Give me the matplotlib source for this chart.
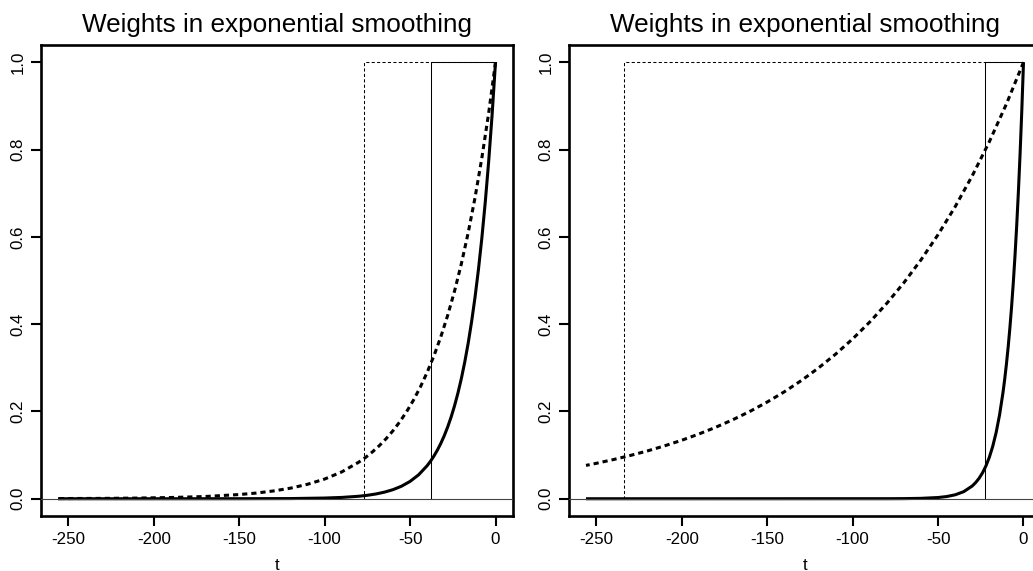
import matplotlib
matplotlib.use("Agg")
import matplotlib.pyplot as plt

plt.rcParams['font.family'] = ['Liberation Sans', 'DejaVu Sans']

# ---- data ----
title = "Weights in exponential smoothing"
xticks = [-250, -200, -150, -100, -50, 0]
yticks = [0.0, 0.2, 0.4, 0.6, 0.8, 1.0]
ytick_labels = ["0.0", "0.2", "0.4", "0.6", "0.8", "1.0"]

# left panel, solid (fast) weights
t_left_solid = [0, -2, -4, -6, -8, -10, -12, -14, -16, -18, -20, -22, -24, -26, -28, -30,
                -32, -34, -36, -38, -40, -45, -50, -55, -60, -65, -70, -75, -80, -90, -100,
                -120, -150, -200, -256]
w_left_solid = [1.0, 0.8789, 0.7725, 0.6790, 0.5968, 0.5245, 0.4610, 0.4052, 0.3561, 0.3130,
                0.2751, 0.2418, 0.2125, 0.1868, 0.1642, 0.1443, 0.1268, 0.1115, 0.0980, 0.0861,
                0.0757, 0.0548, 0.0397, 0.0287, 0.0208, 0.0151, 0.0109, 0.0079, 0.0057, 0.0030,
                0.0016, 0.0004, 0.0001, 0.0, 0.0]
# left panel, dashed (slow) weights
t_left_dashed = [0, -4, -8, -12, -16, -20, -24, -28, -32, -36, -40, -44, -48, -52, -56, -60,
                 -64, -68, -72, -76, -80, -90, -100, -110, -120, -130, -140, -150, -170, -190,
                 -210, -230, -256]
w_left_dashed = [1.0, 0.8834, 0.7804, 0.6894, 0.6090, 0.5380, 0.4753, 0.4199, 0.3709, 0.3277,
                 0.2895, 0.2557, 0.2259, 0.1996, 0.1763, 0.1557, 0.1376, 0.1215, 0.1074, 0.0948,
                 0.0838, 0.0614, 0.0451, 0.0331, 0.0242, 0.0178, 0.0130, 0.0096, 0.0051, 0.0028,
                 0.0015, 0.0008, 0.0004]
# right panel, solid (fast) weights
t_right_solid = [0, -1, -2, -3, -4, -5, -6, -7, -8, -9, -10, -11, -12, -14, -16, -18, -20,
                 -22, -24, -26, -28, -30, -35, -40, -45, -50, -60, -70, -80, -256]
w_right_solid = [1.0, 0.8889, 0.7901, 0.7024, 0.6243, 0.5550, 0.4933, 0.4385, 0.3898, 0.3465,
                 0.3080, 0.2738, 0.2434, 0.1923, 0.1519, 0.1201, 0.0949, 0.0750, 0.0592, 0.0468,
                 0.0370, 0.0292, 0.0162, 0.0090, 0.0050, 0.0028, 0.0009, 0.0003, 0.0001, 0.0]
# right panel, dashed (slow) weights
t_right_dashed = [0, -10, -20, -30, -40, -50, -60, -70, -80, -90, -100, -110, -120, -130, -140,
                  -150, -160, -170, -180, -190, -200, -210, -220, -230, -240, -250, -256]
w_right_dashed = [1.0, 0.9044, 0.8179, 0.7398, 0.6690, 0.6051, 0.5472, 0.4949, 0.4476, 0.4048,
                  0.3661, 0.3311, 0.2995, 0.2708, 0.2449, 0.2215, 0.2003, 0.1812, 0.1639, 0.1482,
                  0.1340, 0.1212, 0.1096, 0.0992, 0.0897, 0.0811, 0.0764]

# equivalent rectangular windows (start of window)
window_left = {"solid": -37.5, "dashed": -77}
window_right = {"solid": -22.5, "dashed": -234}

panels = [
    (t_left_solid, w_left_solid, t_left_dashed, w_left_dashed, window_left),
    (t_right_solid, w_right_solid, t_right_dashed, w_right_dashed, window_right),
]

W, H = 1033, 571
fig = plt.figure(figsize=(W / 100, H / 100), dpi=100)

ax_left_px = [40.5, 568.5]
ax_w_px = 472.5
ax_top_px, ax_bot_px = 44.8, 516.2

dash_thick = (0, (1.7, 1.3))
dash_thin = (0, (3.0, 2.2))

for (ts, ws, td, wd, win), lpx in zip(panels, ax_left_px):
    ax = fig.add_axes([lpx / W, (H - ax_bot_px) / H, ax_w_px / W, (ax_bot_px - ax_top_px) / H])
    ax.set_xlim(-266.24, 10.24)
    ax.set_ylim(-0.04, 1.04)

    ax.plot(ts, ws, color='black', lw=2.2, solid_capstyle='butt', zorder=3)
    ax.plot(td, wd, color='black', lw=2.2, linestyle=dash_thick, dash_capstyle='butt', zorder=3)

    ax.plot([win["dashed"], win["dashed"], 0], [0, 1, 1], color='black', lw=0.75,
            linestyle=dash_thin, zorder=2)
    ax.plot([win["solid"], win["solid"], 0], [0, 1, 1], color='black', lw=0.75, zorder=2)

    ax.axhline(0, color='#444444', lw=0.8, zorder=4)

    ax.set_xticks(xticks)
    ax.set_xticklabels([str(v) for v in xticks])
    ax.set_yticks(yticks)
    ax.set_yticklabels(ytick_labels, rotation=90, va='center')
    ax.tick_params(axis='both', direction='out', length=7.2, width=1.5, labelsize=12.2,
                   color='black')
    ax.tick_params(axis='x', pad=4.5)
    ax.tick_params(axis='y', pad=3.5)
    for s in ax.spines.values():
        s.set_linewidth(1.9)
    ax.set_xlabel("t", fontsize=12.2, labelpad=7.5)
    ax.set_title(title, fontsize=18.8, pad=9)

fig.savefig("out.png", dpi=100)
